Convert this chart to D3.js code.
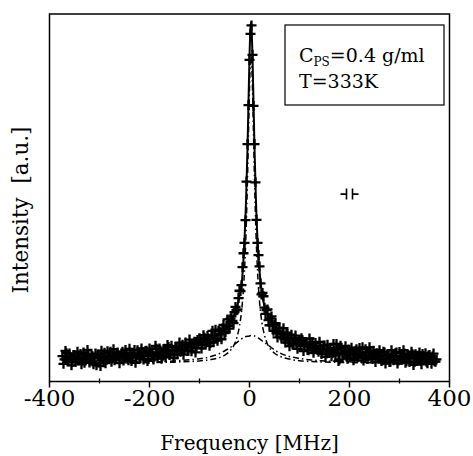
<!DOCTYPE html>
<html>
<head>
<meta charset="utf-8">
<script src="https://cdn.jsdelivr.net/npm/d3@7"></script>
<style>
  body { margin: 0; background: #fff; }
  text { font-family: "DejaVu Serif", serif; fill: #000; }
</style>
</head>
<body>
<div id="chart"></div>
<script>
// measured spectrum, channel set A (MHz, arbitrary units)
var freqA = [
  -374,-370,-366,-362,-358,-354,-350,-346,-342,-338,
  -334,-330,-326,-322,-318,-314,-310,-306,-302,-298,
  -294,-290,-286,-282,-278,-274,-270,-266,-262,-258,
  -254,-250,-246,-242,-238,-234,-230,-226,-222,-218,
  -214,-210,-206,-202,-198,-194,-190,-186,-182,-178,
  -174,-170,-166,-162,-158,-154,-150,-146,-142,-138,
  -134,-130,-126,-122,-118,-114,-110,-106,-102,
  -98,-94,-90,-86,-82,-78,-74,-70,-66,-62,
  -58,-54,-50,-46,-42,-38,-34,-30,-26,-22,
  -18,-14,-10,-6,-2,2,6,10,14,18,
  22,26,30,34,38,42,46,50,54,58,
  62,66,70,74,78,82,86,90,94,98,
  102,106,110,114,118,122,126,130,134,138,
  142,146,150,154,158,162,166,170,174,178,
  182,186,190,194,198,202,206,210,214,218,
  222,226,230,234,238,242,246,250,254,258,
  262,266,270,274,278,282,286,290,294,298,
  302,306,310,314,318,322,326,330,334,338,
  342,346,350,354,358,362,366,370,374
];
var intensityA = [
  6.9,6.0,7.7,5.5,6.6,5.3,7.2,6.5,5.8,7.5,
  6.2,5.1,7.0,7.4,5.8,6.9,6.4,4.4,7.3,4.2,
  6.2,7.8,5.9,7.1,8.1,6.7,5.8,7.4,7.1,6.2,
  8.1,6.5,7.3,5.8,7.8,6.9,8.6,6.6,7.3,6.3,
  8.0,7.0,8.4,6.1,7.9,7.8,6.8,8.9,7.2,8.4,
  6.9,8.9,7.8,9.4,7.5,8.6,7.3,9.3,8.7,8.1,
  10.0,8.6,9.6,8.4,10.1,9.4,10.8,9.1,10.5,
  11.2,9.9,11.9,10.7,11.7,10.5,13.8,12.5,11.7,13.8,
  12.8,14.4,13.2,15.2,15.1,17.1,16.5,18.9,19.4,22.7,
  24.6,31.1,37.7,54.4,75.2,94.6,88.9,64.6,44.0,34.4,
  26.7,24.1,20.1,19.4,16.7,17.2,15.2,15.4,13.2,14.6,
  12.8,13.3,11.5,13.3,11.2,11.8,10.1,11.7,10.4,10.9,
  9.7,11.2,9.8,10.5,8.5,10.0,10.7,8.8,9.4,8.1,
  9.7,8.4,9.8,7.6,8.8,9.1,7.7,8.4,10.2,5.6,
  9.7,7.7,8.4,6.8,8.7,7.5,8.1,6.3,8.8,6.9,
  7.6,9.3,6.5,8.0,6.9,8.3,6.1,7.5,7.7,6.2,
  7.1,5.8,7.9,6.3,7.1,5.4,7.4,6.5,7.9,5.7,
  6.9,6.0,7.6,5.5,7.0,6.2,7.4,5.3,6.7,7.1,
  5.6,7.5,6.0,5.4,7.1,6.2,6.8,5.5,6.0
];

// channel set B
var freqB = [
  -372,-368,-364,-360,-356,-352,-348,-344,-340,-336,
  -332,-328,-324,-320,-316,-312,-308,-304,-300,-296,
  -292,-288,-284,-280,-276,-272,-268,-264,-260,-256,
  -252,-248,-244,-240,-236,-232,-228,-224,-220,-216,
  -212,-208,-204,-200,-196,-192,-188,-184,-180,-176,
  -172,-168,-164,-160,-156,-152,-148,-144,-140,-136,
  -132,-128,-124,-120,-116,-112,-108,-104,
  -100,-96,-92,-88,-84,-80,-76,-72,-68,-64,
  -60,-56,-52,-48,-44,-40,-36,-32,-28,-24,
  -20,-16,-12,-8,-4,0,4,8,12,16,
  20,24,28,32,36,40,44,48,52,56,
  60,64,68,72,76,80,84,88,92,96,
  100,
  104,108,112,116,120,124,128,132,136,140,
  144,148,152,156,160,164,168,172,176,180,
  184,188,192,196,200,204,208,212,216,220,
  224,228,232,236,240,244,248,252,256,260,
  264,268,272,276,280,284,288,292,296,300,
  304,308,312,316,320,324,328,332,336,340,
  344,348,352,356,360,364,368,372
];
var intensityB = [
  4.8,8.3,6.0,7.6,4.4,7.2,5.3,8.1,6.3,4.7,
  7.9,5.8,8.6,5.2,7.0,4.7,7.6,6.9,5.1,8.4,
  5.8,5.0,8.2,6.4,5.4,8.8,6.2,7.9,5.0,7.6,
  5.7,8.6,6.2,8.9,5.6,7.5,5.1,8.5,6.7,9.0,
  6.0,8.3,5.6,9.0,7.3,6.0,9.7,6.8,9.0,6.2,
  8.5,6.6,9.9,7.2,9.7,6.4,9.3,7.4,10.6,8.4,
  7.3,10.6,8.4,11.4,8.2,10.3,7.9,11.3,
  11.8,9.0,12.6,10.1,12.4,9.7,12.5,10.7,14.1,11.1,
  13.7,11.5,15.4,13.4,16.9,14.4,17.7,15.9,20.3,19.6,
  24.7,26.2,34.9,43.9,64.6,87.5,96.9,75.0,54.2,37.7,
  31.3,23.7,23.2,18.4,19.6,15.3,17.7,13.8,15.9,12.0,
  14.6,12.0,14.5,10.6,12.9,9.6,12.7,10.3,12.5,8.9,
  11.3,
  11.8,8.3,10.6,8.6,11.7,8.8,7.8,10.5,8.7,10.8,
  7.5,9.7,6.7,10.0,8.0,6.9,10.2,7.2,8.8,6.0,
  9.2,7.4,9.6,6.2,8.2,9.2,5.8,8.4,6.5,9.1,
  6.7,5.7,8.8,6.1,9.3,6.7,8.4,5.3,7.6,8.5,
  5.6,8.1,4.9,7.3,5.3,8.5,5.8,7.7,4.9,8.0,
  6.0,8.5,5.1,7.3,5.3,8.1,4.5,7.4,6.2,7.9,
  4.7,6.8,7.7,5.0,7.2,4.8,7.6,5.4
];

// total fit (solid line)
var fitFreq = [-375,-300,-200,-150,-120,-100,-80,-60,-50,-40,-30,-25,-20,-15,-10,-7,-4,-2,0,2,3,4,6,8,10,13,16,20,25,30,40,50,60,80,100,120,150,200,300,375];
var fitTotal = [6.3,6.6,7.5,8.4,9.35,10.2,11.35,12.95,14.1,15.6,18.2,20.2,23.4,27.4,38.7,48.8,63.7,76.0,88.3,96.4,97.6,96.4,88.3,76.0,63.6,48.7,38.6,30.1,24.0,20.5,17.3,14.65,13.3,11.5,10.3,9.4,8.5,7.6,6.6,6.3];

// narrow component (dash-dot)
var narrowFreq = [-375,-200,-150,-100,-80,-60,-50,-40,-30,-25,-20,-15,-10,-7,-4,-2,0,2,3,4,6,8,10,13,16,20,25,30,35,40,50,60,80,100,150,200,375];
var narrowFit = [5.05,5.15,5.3,5.6,5.9,6.5,7.1,8.2,10.2,12.1,15.1,20.3,30.2,40.2,55.1,67.4,79.7,87.9,89.0,87.9,79.7,67.4,55.1,40.2,30.2,21.8,15.9,12.6,10.5,9.2,7.7,6.9,6.1,5.65,5.3,5.15,5.05];

// broad component (dash-dot)
var broadFreq = [-375,-200,-150,-120,-100,-80,-60,-50,-40,-30,-20,-10,0,3,10,20,30,40,50,60,80,100,120,150,200,375];
var broadFit = [5.1,5.35,5.6,5.9,6.2,6.7,7.6,8.3,9.1,10.1,11.2,12.1,12.4,12.5,12.4,11.6,10.6,9.6,8.6,7.8,6.8,6.3,5.9,5.6,5.35,5.1];

var xTicks = [-400, -200, 0, 200, 400];
var xMinorTicks = [-300, -100, 100, 300];
var resolutionMark = { freq: 200, level: 51, gap: 6 };

var width = 473, height = 456;
var margin = { left: 49.5, top: 14, right: 23.5, bottom: 74.5 };
var w = width - margin.left - margin.right,
    h = height - margin.top - margin.bottom;

var svg = d3.select("#chart").append("svg")
    .attr("width", width)
    .attr("height", height);

var g = svg.append("g")
    .attr("transform", "translate(" + margin.left + "," + margin.top + ")");

var x = d3.scaleLinear().domain([-400, 400]).range([0, w]);
var y = d3.scaleLinear().domain([0, 100]).range([h, 0]);

// fit curves
var line = d3.line().curve(d3.curveMonotoneX);

g.append("path")
    .attr("d", line(broadFreq.map(function (f, i) { return [x(f), y(broadFit[i])]; })))
    .attr("fill", "none").attr("stroke", "#000").attr("stroke-width", 1.5)
    .attr("stroke-dasharray", "6,3,1.5,3");

g.append("path")
    .attr("d", line(narrowFreq.map(function (f, i) { return [x(f), y(narrowFit[i])]; })))
    .attr("fill", "none").attr("stroke", "#000").attr("stroke-width", 1.5)
    .attr("stroke-dasharray", "6,3,1.5,3");

g.append("path")
    .attr("d", line(fitFreq.map(function (f, i) { return [x(f), y(fitTotal[i])]; })))
    .attr("fill", "none").attr("stroke", "#000").attr("stroke-width", 2);

// data markers (+)
var points = freqA.map(function (f, i) { return [f, intensityA[i]]; })
    .concat(freqB.map(function (f, i) { return [f, intensityB[i]]; }));
var ms = 5;
g.append("g").selectAll("path")
    .data(points)
    .enter().append("path")
    .attr("d", function (d) {
        var cx = x(d[0]), cy = y(d[1]);
        return "M" + (cx - ms) + "," + cy + "H" + (cx + ms) +
               "M" + cx + "," + (cy - ms) + "V" + (cy + ms);
    })
    .attr("stroke", "#000").attr("stroke-width", 2.3).attr("fill", "none");

// frame
g.append("rect")
    .attr("width", w).attr("height", h)
    .attr("fill", "none").attr("stroke", "#000").attr("stroke-width", 1.5);

// bottom ticks
g.selectAll(".majorTick").data(xTicks).enter().append("line")
    .attr("x1", function (d) { return x(d); }).attr("x2", function (d) { return x(d); })
    .attr("y1", h).attr("y2", h + 6)
    .attr("stroke", "#000").attr("stroke-width", 1.5);
g.selectAll(".minorTick").data(xMinorTicks).enter().append("line")
    .attr("x1", function (d) { return x(d); }).attr("x2", function (d) { return x(d); })
    .attr("y1", h - 3).attr("y2", h + 2)
    .attr("stroke", "#000").attr("stroke-width", 1.3);

g.selectAll(".tickLabel").data(xTicks).enter().append("text")
    .attr("x", function (d) { return x(d); })
    .attr("y", h + 24.5)
    .attr("text-anchor", "middle")
    .style("font-size", "23px")
    .text(function (d) { return d; });

// axis titles
g.append("text")
    .attr("x", w / 2).attr("y", h + 68.5)
    .attr("text-anchor", "middle")
    .style("font-size", "20px")
    .text("Frequency [MHz]");

svg.append("text")
    .attr("transform", "translate(28,210) rotate(-90)")
    .attr("text-anchor", "middle")
    .style("font-size", "21.5px")
    .text("Intensity\u00a0\u00a0[a.u.]");

// legend box
var legend = svg.append("g").attr("transform", "translate(285,25)");
legend.append("rect")
    .attr("width", 159).attr("height", 80)
    .attr("fill", "#fff").attr("stroke", "#000").attr("stroke-width", 1.2);
var t1 = legend.append("text").attr("x", 14).attr("y", 37).style("font-size", "19px");
t1.append("tspan").text("C");
t1.append("tspan").attr("dy", 4).style("font-size", "12px").text("PS");
t1.append("tspan").attr("dy", -4).text("=0.4 g/ml");
legend.append("text").attr("x", 14).attr("y", 63).style("font-size", "19px").text("T=333K");

// resolution mark
var rx = x(resolutionMark.freq), ry = y(resolutionMark.level), gp = resolutionMark.gap / 2;
g.append("path")
    .attr("d", "M" + (rx - gp - 6) + "," + ry + "H" + (rx - gp) +
               "M" + (rx - gp) + "," + (ry - 5.5) + "V" + (ry + 5.5) +
               "M" + (rx + gp) + "," + (ry - 5.5) + "V" + (ry + 5.5) +
               "M" + (rx + gp) + "," + ry + "H" + (rx + gp + 6))
    .attr("stroke", "#000").attr("stroke-width", 1.6).attr("fill", "none");
</script>
</body>
</html>
